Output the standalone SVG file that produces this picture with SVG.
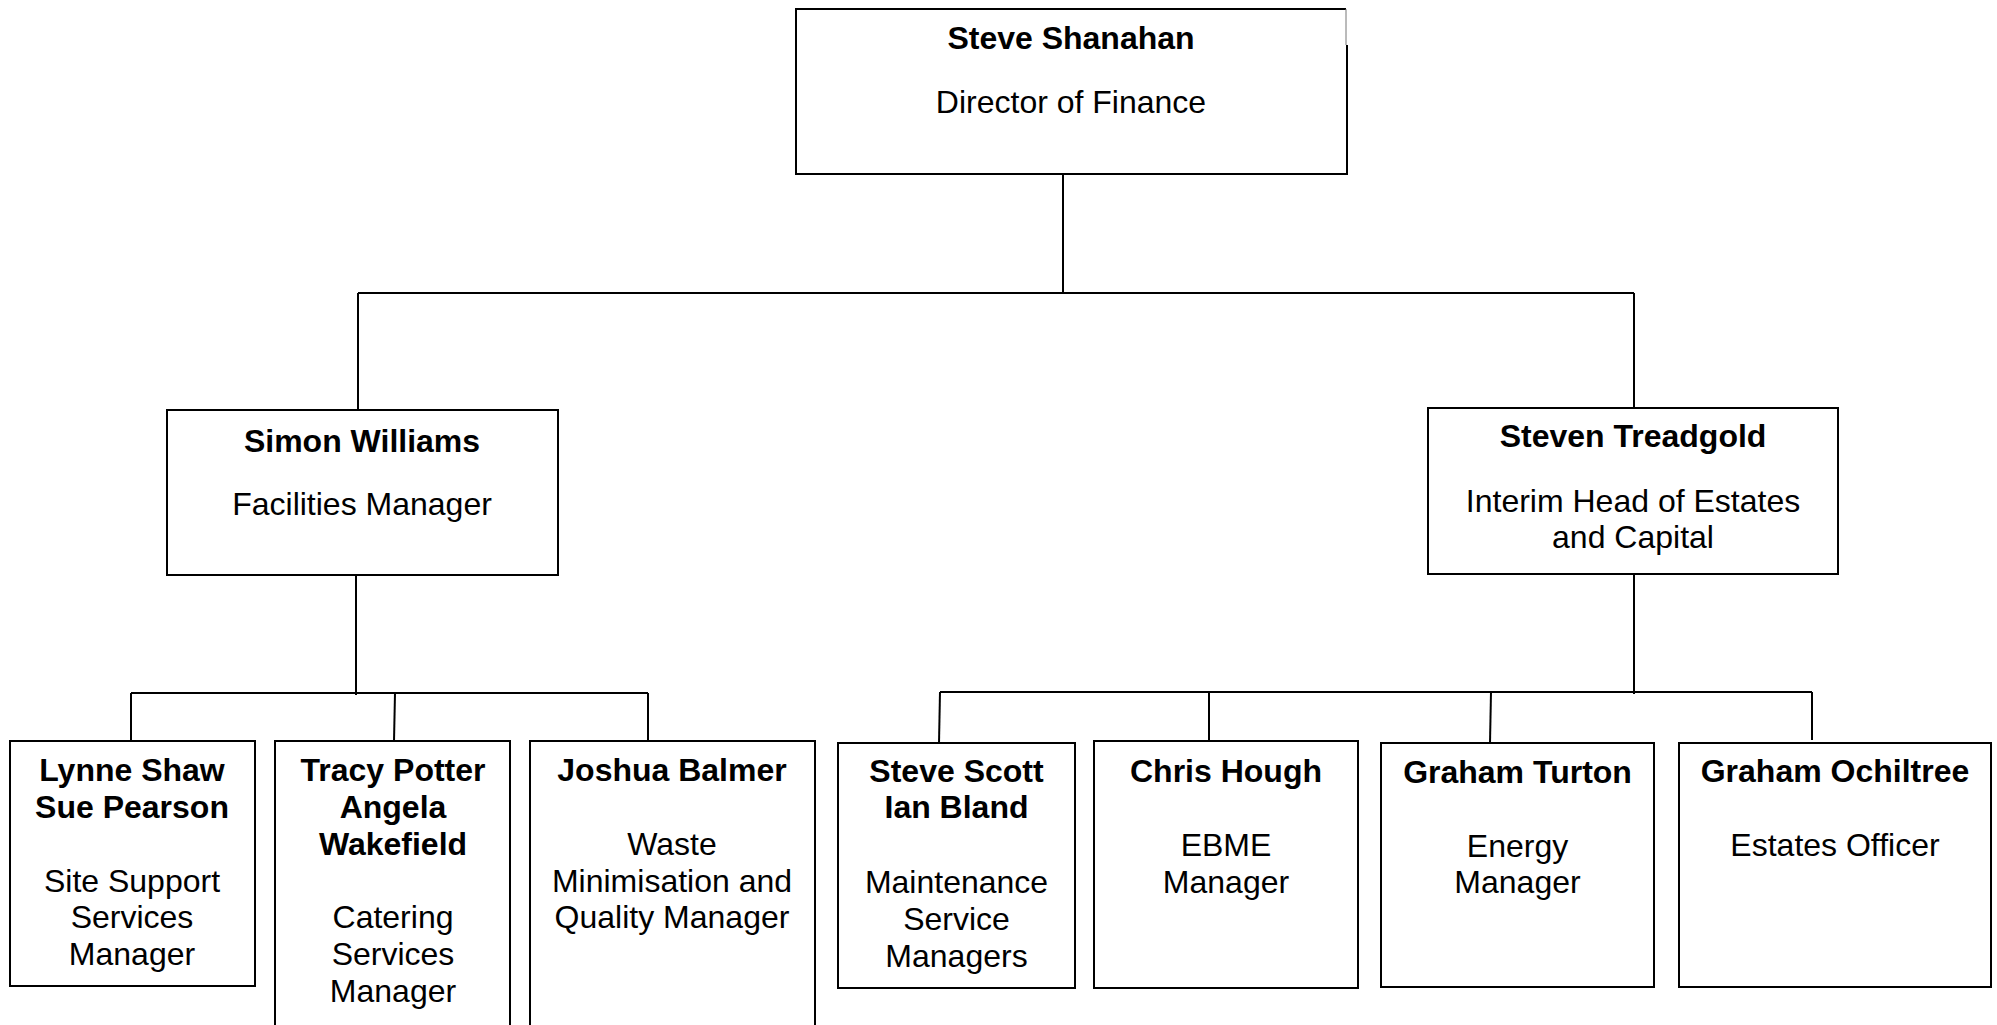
<svg xmlns="http://www.w3.org/2000/svg" width="1997" height="1025" viewBox="0 0 1997 1025">
<style>
  .box { fill: #fff; stroke: #000; stroke-width: 2; }
  .ln { fill: none; stroke: #000; stroke-width: 2; }
  text { font-family: "Liberation Sans", Arial, sans-serif; font-size: 32px; fill: #000; text-anchor: middle; }
  .b { font-weight: bold; }
</style>
<rect x="0" y="0" width="1997" height="1025" fill="#fff"/>
<g id="connectors">
  <path class="ln" d="M1063 174 V293"/>
  <path class="ln" d="M358 293 H1634"/>
  <path class="ln" d="M358 293 V410"/>
  <path class="ln" d="M1634 293 V408"/>
  <path class="ln" d="M356 575 V695"/>
  <path class="ln" d="M131 693 H648"/>
  <path class="ln" d="M131 693 V741"/>
  <path class="ln" d="M395 693 L394 741"/>
  <path class="ln" d="M648 693 V741"/>
  <path class="ln" d="M1634 574 V694"/>
  <path class="ln" d="M940 692 H1812"/>
  <path class="ln" d="M940 692 L939 743"/>
  <path class="ln" d="M1209 692 V741"/>
  <path class="ln" d="M1491 692 L1490 743"/>
  <path class="ln" d="M1812 692 V740"/>
</g>
<g id="node-steve-shanahan">
  <rect x="796" y="9" width="550" height="165" fill="#fff" stroke="none"/>
  <path class="ln" d="M1346 9 H796 V174 H1347 V45"/>
  <path d="M1346 9 V45" stroke="#777" stroke-width="1" fill="none"/>
  <text class="b" x="1071" y="49">Steve Shanahan</text>
  <text x="1071" y="113">Director of Finance</text>
</g>
<g id="node-simon-williams">
  <rect class="box" x="167" y="410" width="391" height="165"/>
  <text class="b" x="362" y="452">Simon Williams</text>
  <text x="362" y="515">Facilities Manager</text>
</g>
<g id="node-steven-treadgold">
  <rect class="box" x="1428" y="408" width="410" height="166"/>
  <text class="b" x="1633" y="447">Steven Treadgold</text>
  <text x="1633" y="512">Interim Head of Estates</text>
  <text x="1633" y="548">and Capital</text>
</g>
<g id="node-lynne-shaw">
  <rect class="box" x="10" y="741" width="245" height="245"/>
  <text class="b" x="132" y="781">Lynne Shaw</text>
  <text class="b" x="132" y="818">Sue Pearson</text>
  <text x="132" y="892">Site Support</text>
  <text x="132" y="928">Services</text>
  <text x="132" y="965">Manager</text>
</g>
<g id="node-tracy-potter">
  <rect class="box" x="275" y="741" width="235" height="300"/>
  <text class="b" x="393" y="781">Tracy Potter</text>
  <text class="b" x="393" y="818">Angela</text>
  <text class="b" x="393" y="855">Wakefield</text>
  <text x="393" y="928">Catering</text>
  <text x="393" y="965">Services</text>
  <text x="393" y="1002">Manager</text>
</g>
<g id="node-joshua-balmer">
  <rect class="box" x="530" y="741" width="285" height="300"/>
  <text class="b" x="672" y="781">Joshua Balmer</text>
  <text x="672" y="855">Waste</text>
  <text x="672" y="892">Minimisation and</text>
  <text x="672" y="928">Quality Manager</text>
</g>
<g id="node-steve-scott">
  <rect class="box" x="838" y="743" width="237" height="245"/>
  <text class="b" x="956.5" y="782">Steve Scott</text>
  <text class="b" x="956.5" y="818">Ian Bland</text>
  <text x="956.5" y="893">Maintenance</text>
  <text x="956.5" y="930">Service</text>
  <text x="956.5" y="967">Managers</text>
</g>
<g id="node-chris-hough">
  <rect class="box" x="1094" y="741" width="264" height="247"/>
  <text class="b" x="1226" y="782">Chris Hough</text>
  <text x="1226" y="856">EBME</text>
  <text x="1226" y="893">Manager</text>
</g>
<g id="node-graham-turton">
  <rect class="box" x="1381" y="743" width="273" height="244"/>
  <text class="b" x="1517.5" y="783">Graham Turton</text>
  <text x="1517.5" y="857">Energy</text>
  <text x="1517.5" y="893">Manager</text>
</g>
<g id="node-graham-ochiltree">
  <rect class="box" x="1679" y="743" width="312" height="244"/>
  <text class="b" x="1835" y="782">Graham Ochiltree</text>
  <text x="1835" y="856">Estates Officer</text>
</g>
</svg>
